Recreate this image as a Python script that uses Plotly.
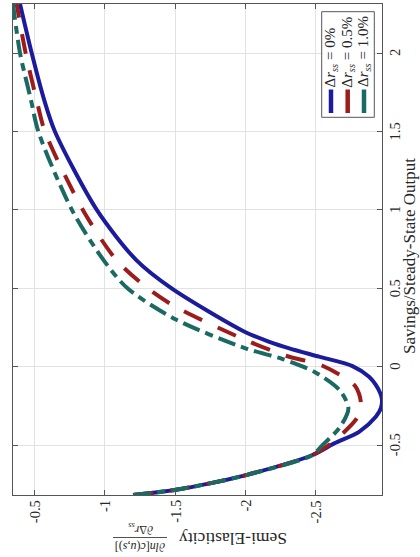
import plotly.graph_objects as go

# ---------------- data ----------------
savings_0 = [-0.818, -0.786, -0.744, -0.691, -0.563, -0.489, -0.415, -0.319, -0.265, -0.212, -0.170,
             -0.116, -0.064, 0.004, 0.064, 0.117, 0.159, 0.22, 0.50, 0.68, 1.00, 1.50, 1.70, 2.00, 2.313]
elast_0 = [-1.20, -1.495, -1.745, -2.004, -2.476, -2.630, -2.807, -2.926, -2.962, -2.970, -2.958,
           -2.926, -2.878, -2.760, -2.523, -2.311, -2.169, -2.00, -1.474, -1.223, -0.942, -0.644, -0.568, -0.479, -0.396]

savings_05 = [-0.818, -0.786, -0.744, -0.691, -0.563, -0.48, -0.323, -0.223, -0.123, 0.006,
              0.070, 0.170, 0.383, 0.50, 0.68, 1.00, 1.50, 1.70, 2.00, 2.313]
elast_05 = [-1.20, -1.495, -1.745, -2.004, -2.476, -2.62, -2.795, -2.819, -2.779, -2.547,
            -2.287, -2.00, -1.50, -1.304, -1.082, -0.843, -0.573, -0.514, -0.436, -0.372]

savings_10 = [-0.818, -0.786, -0.744, -0.691, -0.563, -0.506, -0.386, -0.265, -0.149, -0.032,
              0.049, 0.117, 0.303, 0.50, 0.68, 1.00, 1.50, 1.70, 2.00, 2.313]
elast_10 = [-1.20, -1.495, -1.745, -2.004, -2.476, -2.54, -2.670, -2.731, -2.668, -2.488,
            -2.263, -2.00, -1.50, -1.16, -0.99, -0.765, -0.526, -0.474, -0.396, -0.346]

series_names = ["Δ<i>r</i><sub><i>ss</i></sub> = 0%",
                "Δ<i>r</i><sub><i>ss</i></sub> = 0.5%",
                "Δ<i>r</i><sub><i>ss</i></sub> = 1.0%"]
series_colors = ["#1b1b9c", "#9c1c1c", "#1a6963"]
series_dash = ["solid", "20px,17px", "18px,6px,8px,6px"]

x_tickvals = [-2.5, -2.0, -1.5, -1.0, -0.5]
x_ticktext = ["-2.5", "-2", "-1.5", "-1", "-0.5"]
y_tickvals = [-0.5, 0, 0.5, 1, 1.5, 2]
y_ticktext = ["-0.5", "0", "0.5", "1", "1.5", "2"]

y_title = "Savings/Steady-State Output"
x_title = "Semi-Elasticity"
frac_num = "∂<i>ln</i>[<i>c</i>(<i>u</i>,<i>s</i>)]"
frac_den = "∂Δ<i>r</i><sub><i>ss</i></sub>"

# ---------------- layout geometry (pixels of the 420x557 page) ----------------
W, H = 420, 557
L, R, T, B = 13, 382, 4, 495
FONT = "Liberation Serif"
TXT = "#262626"
AXC = "#555555"


def px(x):
    return (x - L) / (R - L)


def py(y):
    return (B - y) / (B - T)


fig = go.Figure()
all_s = savings_0 + savings_05 + savings_10
all_e = elast_0 + elast_05 + elast_10
for s, e, c, d in zip([savings_0, savings_05, savings_10],
                      [elast_0, elast_05, elast_10],
                      series_colors, series_dash):
    fig.add_trace(go.Scatter(x=e, y=s, mode="lines",
                             line=dict(color=c, width=4, dash=d, shape="spline", smoothing=0.8),
                             showlegend=False, hoverinfo="skip"))

fig.update_layout(
    width=W, height=H,
    margin=dict(l=L, r=W - R, t=T, b=H - B, autoexpand=False),
    paper_bgcolor="white", plot_bgcolor="white",
    font=dict(family=FONT, size=14, color=TXT),
    showlegend=False,
)
common_axis = dict(ticks="inside", ticklen=5, tickcolor=AXC, showline=True, linecolor=AXC,
                   linewidth=1, mirror="ticks", showgrid=True, gridcolor="#e2e2e2", gridwidth=1,
                   zeroline=False, automargin=False, showticklabels=False)
fig.update_xaxes(range=[max(all_e), min(all_e)], tickvals=x_tickvals, **common_axis)
fig.update_yaxes(range=[min(all_s), max(all_s)], tickvals=y_tickvals, side="right", **common_axis)

ann = []
shapes = []


def rot_text(text, x, y, angle, size, xref="paper", yref="paper", xanchor="center", yanchor="middle"):
    return dict(text=text, x=x, y=y, xref=xref, yref=yref, showarrow=False, textangle=angle,
                xanchor=xanchor, yanchor=yanchor, borderwidth=0, borderpad=0,
                font=dict(family=FONT, size=size, color=TXT))


# tick labels (rotated like the reference)
for v, t in zip(x_tickvals, x_ticktext):
    ann.append(rot_text(t, v, py(500), -90, 14.5, xref="x", yanchor="top"))
for v, t in zip(y_tickvals, y_ticktext):
    ann.append(rot_text(t, px(395), v, -90, 14.5, yref="y"))

# axis titles
ann.append(rot_text(y_title, px(410), py(256), -90, 17))
ann.append(rot_text(x_title, px(232.5), py(539), 180, 17.5))
ann.append(rot_text(frac_num, px(140), py(547), 180, 12))
ann.append(rot_text(frac_den, px(141), py(529), 180, 12))
shapes.append(dict(type="line", xref="paper", yref="paper", x0=px(113), x1=px(167),
                   y0=py(537.5), y1=py(537.5), line=dict(color=TXT, width=0.8)))

# legend (rotated)
shapes.append(dict(type="rect", xref="paper", yref="paper", x0=px(321.7), x1=px(374.3),
                   y0=py(117.3), y1=py(11.7), line=dict(color=AXC, width=1),
                   fillcolor="white", layer="above"))
leg_x = [331, 347.7, 364]
for name, c, lx in zip(series_names, series_colors, leg_x):
    shapes.append(dict(type="line", xref="paper", yref="paper", x0=px(lx), x1=px(lx),
                       y0=py(113), y1=py(89.5), line=dict(color=c, width=4.5), layer="above"))
    ann.append(rot_text(name, px(lx), py(87.5), -90, 15, yanchor="bottom"))

fig.update_layout(annotations=ann, shapes=shapes)
fig.write_html("out.html",
               config={"displayModeBar": False, "staticPlot": True},
               post_script="document.body.style.margin='0px';document.body.style.overflow='hidden';")
